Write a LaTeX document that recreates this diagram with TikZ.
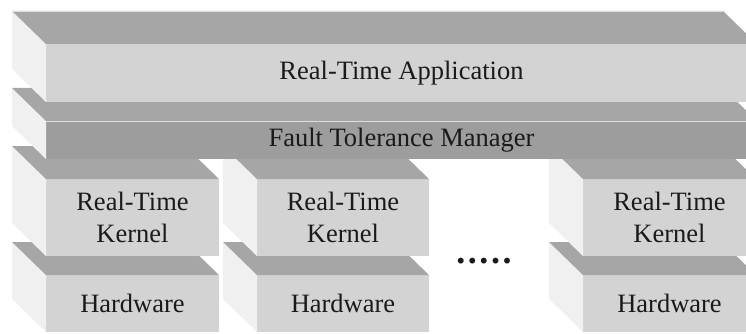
\documentclass[tikz,border=0pt]{standalone}
\usepackage{fontspec}
\setmainfont{Liberation Serif}
\newfontfamily\timesf{Liberation Serif}
\definecolor{topface}{RGB}{166,166,166}
\definecolor{sideface}{RGB}{240,240,240}
\definecolor{frontface}{RGB}{211,211,211}
\definecolor{ftmface}{RGB}{157,157,157}
\definecolor{inkc}{RGB}{26,26,26}
\definecolor{edgec}{RGB}{222,222,222}
\tikzset{
  face/.style={inner sep=0pt, outer sep=0pt, anchor=north west, align=center,
    text=inkc, font=\timesf\fontsize{26.5}{32}\selectfont},
}
% #1 name, #2 x1, #3 y1, #4 x2, #5 y2 (front face, y downward), #6 fill, #7 text
\newcommand\layerbox[7]{%
  \node[face, fill=#6, minimum width={(#4)*1pt-(#2)*1pt}, minimum height={(#5)*1pt-(#3)*1pt}] (#1) at (#2,#3) {#7};
  \fill[sideface] (#1.north west) -- ++(-34,-33) -- ([shift={(-34pt,33pt)}]#1.south west) -- (#1.south west) -- cycle;
  \fill[topface] (#1.north west) -- ++(-34,-33) -- ([shift={(-34pt,33pt)}]#1.north east) -- (#1.north east) -- cycle;
}
\begin{document}
\begin{tikzpicture}[x=1pt,y=-1pt]
\useasboundingbox (0,0) rectangle (746,334);
\clip (0,0) rectangle (746,334);
% hardware row
\layerbox{hw1}{46}{275}{219}{332}{frontface}{Hardware}
\layerbox{hw2}{257}{275}{429}{332}{frontface}{Hardware}
\layerbox{hw3}{583}{275}{756}{332}{frontface}{Hardware}
% kernel row
\layerbox{k1}{46}{179}{219}{256}{frontface}{Real-Time\\Kernel}
\layerbox{k2}{257}{179}{429}{256}{frontface}{Real-Time\\Kernel}
\layerbox{k3}{583}{179}{756}{256}{frontface}{Real-Time\\Kernel}
% fault tolerance manager
\layerbox{ftm}{46}{121}{757}{159}{ftmface}{Fault Tolerance Manager}
\draw[edgec, line width=0.8pt] (ftm.north west) -- (ftm.north east);
% application
\layerbox{rta}{46}{44}{757}{102}{frontface}{Real-Time Application}
\draw[edgec, line width=0.8pt] ([shift={(-34pt,33pt)}]rta.north west) -- ([shift={(-34pt,33pt)}]rta.north east);
% dots
\node[inner sep=0pt, text=inkc, font=\timesf\bfseries\fontsize{36}{36}\selectfont] (dots) at (484,261) {.\kern2.6pt.\kern2.6pt.\kern2.6pt.\kern2.6pt.};
\end{tikzpicture}
\end{document}
